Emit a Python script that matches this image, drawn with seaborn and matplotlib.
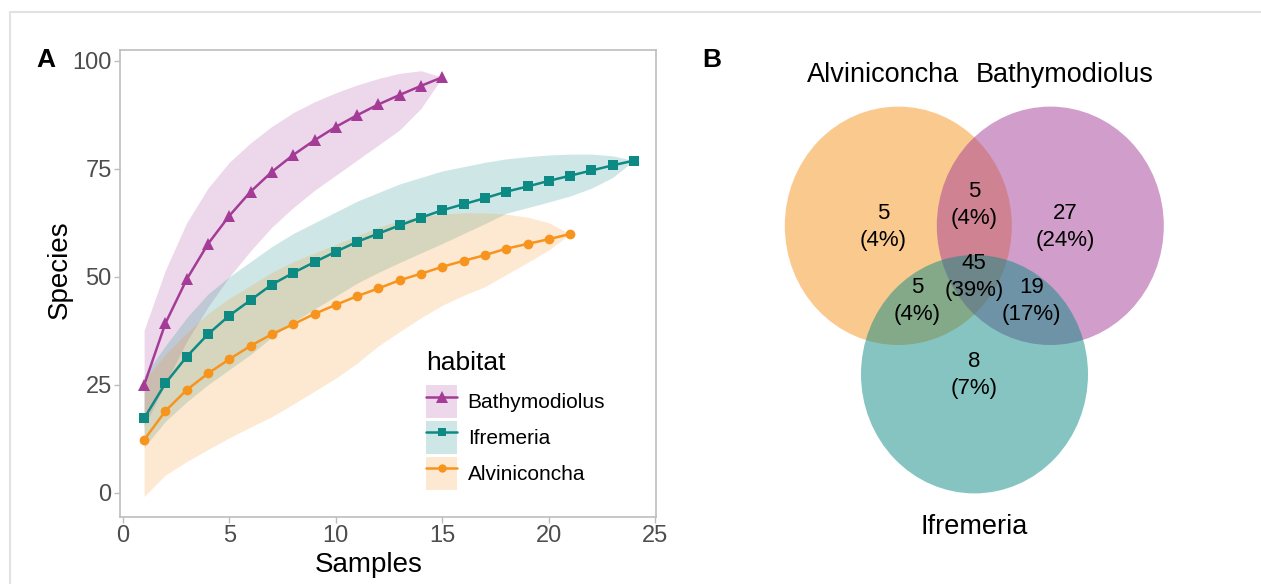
import matplotlib
matplotlib.use('Agg')
import matplotlib.pyplot as plt
import seaborn as sns
import pandas as pd
from matplotlib.patches import Patch, Ellipse, Rectangle
from matplotlib.lines import Line2D
from matplotlib.colors import to_rgba

# Curvas de rarefacción
bath_x = [1, 2, 3, 4, 5, 6, 7, 8, 9, 10, 11, 12, 13, 14, 15]
bath_y = [24.9, 39.2, 49.4, 57.6, 64.1, 69.7, 74.3, 78.2, 81.6, 84.7, 87.4, 89.9, 92.1, 94.2, 96.2]
bath_lo = [15.3, 25.2, 35.0, 43.0, 50.0, 56.0, 61.5, 66.0, 70.0, 73.5, 77.0, 80.5, 84.0, 89.0, 96.2]
bath_hi = [37.6, 51.5, 62.5, 70.5, 76.5, 81.0, 84.8, 88.0, 90.5, 92.6, 94.4, 95.9, 97.1, 97.7, 96.2]

ifre_x = [1, 2, 3, 4, 5, 6, 7, 8, 9, 10, 11, 12, 13, 14, 15, 16, 17, 18, 19, 20, 21, 22, 23, 24]
ifre_y = [17.2, 25.3, 31.5, 36.7, 41.0, 44.6, 48.2, 50.9, 53.4, 55.8, 58.1, 60.0, 61.9, 63.7,
          65.4, 66.8, 68.2, 69.7, 70.9, 72.2, 73.4, 74.6, 75.8, 76.9]
ifre_lo = [10.5, 16.5, 21.0, 25.0, 28.5, 32.0, 36.0, 39.5, 42.5, 45.5, 48.5, 51.0, 53.3, 55.5,
           57.7, 60.0, 62.3, 64.7, 66.0, 67.3, 68.7, 70.5, 73.0, 76.9]
ifre_hi = [27.0, 34.0, 40.5, 46.0, 50.0, 53.5, 57.0, 60.0, 62.5, 65.0, 67.5, 69.5, 71.5, 73.0,
           74.5, 75.5, 76.5, 77.3, 77.8, 78.2, 78.4, 78.4, 78.0, 76.9]

alvi_x = [1, 2, 3, 4, 5, 6, 7, 8, 9, 10, 11, 12, 13, 14, 15, 16, 17, 18, 19, 20, 21]
alvi_y = [12.2, 18.9, 23.8, 27.6, 30.9, 34.0, 36.7, 39.0, 41.4, 43.5, 45.5, 47.3, 49.2, 50.7,
          52.3, 53.7, 55.0, 56.5, 57.6, 58.7, 59.9]
alvi_lo = [-0.9, 4.1, 7.2, 10.0, 12.7, 15.2, 17.6, 20.5, 23.5, 26.5, 30.0, 34.0, 37.3, 40.5,
           43.4, 45.7, 47.7, 50.5, 53.3, 56.2, 59.9]
alvi_hi = [26.0, 32.0, 37.0, 41.5, 45.0, 48.0, 51.0, 53.5, 55.5, 57.5, 59.5, 61.5, 63.0, 64.0,
           64.5, 64.8, 64.8, 64.5, 63.8, 62.5, 59.9]

habitats = ['Bathymodiolus', 'Ifremeria', 'Alviniconcha']
colores = {'Bathymodiolus': '#A43C97', 'Ifremeria': '#0E8A84', 'Alviniconcha': '#F7941E'}
marcadores = {'Bathymodiolus': '^', 'Ifremeria': 's', 'Alviniconcha': 'o'}
tam_marcador = {'Bathymodiolus': 9, 'Ifremeria': 7, 'Alviniconcha': 7}

# Diagrama de Venn
venn_sets = ['Alviniconcha', 'Bathymodiolus', 'Ifremeria']
venn_regions = ['A', 'AB', 'B', 'ABI', 'AI', 'BI', 'I']
venn_counts = [5, 5, 27, 45, 5, 19, 8]
venn_pct = [4, 4, 24, 39, 4, 17, 7]

df = pd.concat([
    pd.DataFrame({'Samples': bath_x, 'Species': bath_y, 'lo': bath_lo, 'hi': bath_hi, 'habitat': 'Bathymodiolus'}),
    pd.DataFrame({'Samples': ifre_x, 'Species': ifre_y, 'lo': ifre_lo, 'hi': ifre_hi, 'habitat': 'Ifremeria'}),
    pd.DataFrame({'Samples': alvi_x, 'Species': alvi_y, 'lo': alvi_lo, 'hi': alvi_hi, 'habitat': 'Alviniconcha'}),
], ignore_index=True)

sns.set_theme(style='white')
plt.rcParams['font.family'] = ['Liberation Sans', 'DejaVu Sans']
plt.rcParams['text.color'] = 'black'
plt.rcParams['axes.labelcolor'] = 'black'

W, H = 1261, 584
fig = plt.figure(figsize=(W / 100, H / 100), dpi=100)

# marco gris de la figura
fig.patches.append(Rectangle((10 / W, -0.2), 1.2, 1.2 - 12 / H, transform=fig.transFigure,
                             fill=False, edgecolor='#E2E2E2', lw=1.5))

# Panel A
ax = fig.add_axes([120 / W, 1 - 516.7 / H, 536 / W, 466.7 / H])
for h in habitats:
    d = df[df['habitat'] == h]
    ax.fill_between(d['Samples'], d['lo'], d['hi'], color=colores[h], alpha=0.2, lw=0)
for h in habitats:
    d = df[df['habitat'] == h]
    sns.lineplot(data=d, x='Samples', y='Species', color=colores[h], marker=marcadores[h],
                 markersize=tam_marcador[h], markeredgewidth=0, lw=1.8, ax=ax)

ax.set_xlim(-0.13, 25.03)
ax.set_ylim(-5.56, 102.5)
ax.set_xticks([0, 5, 10, 15, 20, 25])
ax.set_yticks([0, 25, 50, 75, 100])
for s in ax.spines.values():
    s.set_color('#BDBDBD')
    s.set_linewidth(1.2)
ax.tick_params(bottom=True, left=True, length=4, width=1, color='#BDBDBD',
               labelcolor='#4D4D4D', labelsize=17, pad=2)
ax.set_xlabel('Samples', fontsize=20, labelpad=0)
ax.set_ylabel('Species', fontsize=20, labelpad=4)
ax.xaxis.set_label_coords(0.4646, -0.075)
ax.yaxis.set_label_coords(-0.089, 0.529)

# leyenda: título aparte para separar igual que en ggplot
handles = []
for h in habitats:
    handles.append((Patch(facecolor=to_rgba(colores[h], 0.2), edgecolor='none'),
                    Line2D([], [], color=colores[h], marker=marcadores[h], lw=1.8,
                           markersize=tam_marcador[h] - 1, markeredgewidth=0)))
fig.text(426 / W, 1 - 363 / H, 'habitat', fontsize=19, ha='left', va='center')
leg = ax.legend(handles, habitats, loc='upper left',
                bbox_to_anchor=(426 / W, 1 - 385 / H), bbox_transform=fig.transFigure,
                frameon=False, fontsize=15, handlelength=1.5,
                handleheight=2.06, labelspacing=0.14, handletextpad=0.5,
                borderpad=0, borderaxespad=0)

fig.text(46 / W, 1 - 60 / H, 'A', fontsize=19, fontweight='bold', ha='center', va='center')
fig.text(712 / W, 1 - 60 / H, 'B', fontsize=19, fontweight='bold', ha='center', va='center')

# Panel B: Venn (coordenadas en píxeles)
axv = fig.add_axes([690 / W, 0, (W - 690) / W, 1])
axv.set_xlim(690, W)
axv.set_ylim(H, 0)
axv.axis('off')

centros = {'Alviniconcha': (898.3, 225.8), 'Bathymodiolus': (1050.3, 225.8), 'Ifremeria': (974.5, 374.2)}
for s in venn_sets:
    axv.add_patch(Ellipse(centros[s], 227, 238.4, facecolor=colores[s], alpha=0.5, lw=0))

pos_titulos = {'Alviniconcha': (883, 75), 'Bathymodiolus': (1065, 75), 'Ifremeria': (974, 527)}
for s in venn_sets:
    axv.text(*pos_titulos[s], s, fontsize=19.5, ha='center', va='center')

pos_regiones = {'A': (883, 227), 'AB': (974, 205), 'B': (1065.7, 227), 'ABI': (974, 277),
                'AI': (917.3, 301), 'BI': (1031.7, 301), 'I': (974, 375)}
for r, n, p in zip(venn_regions, venn_counts, venn_pct):
    axv.text(*pos_regiones[r], f'{n}\n({p}%)', fontsize=16, ha='center', va='center',
             linespacing=1.4)

fig.savefig('out.png', dpi=100)
